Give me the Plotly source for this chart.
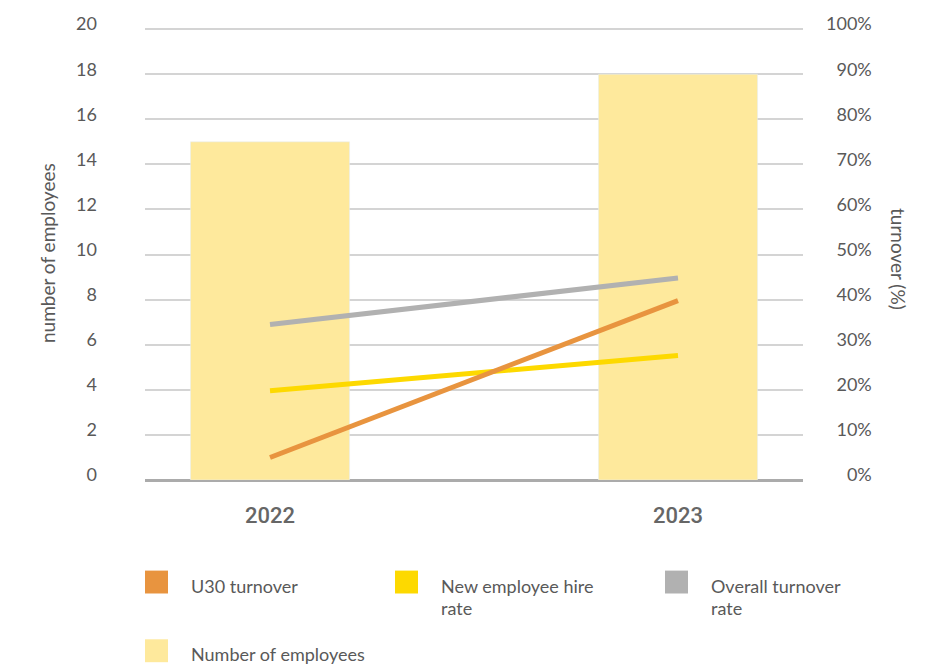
import plotly.graph_objects as go

years = ["2022", "2023"]
employees = [15, 18]
u30_turnover = [5.0, 39.8]
hire_rate = [19.8, 27.6]
overall_turnover = [34.5, 44.8]

left_ticks = list(range(0, 21, 2))
right_ticks = list(range(0, 101, 10))

C_BAR = "#FEE99C"
C_U30 = "#E8943F"
C_HIRE = "#FDD900"
C_ALL = "#B1B1B1"
TXT = "#595959"
FONT = "Lato"

W, H = 934, 666
L, R, T, B = 145, 803, 26, 480

fig = go.Figure()
fig.add_trace(go.Bar(x=years, y=employees, marker_color=C_BAR, width=0.39,
                     name="Number of employees", yaxis="y"))
for name, vals, col in [("Overall turnover rate", overall_turnover, C_ALL),
                        ("New employee hire rate", hire_rate, C_HIRE),
                        ("U30 turnover", u30_turnover, C_U30)]:
    fig.add_trace(go.Scatter(x=years, y=vals, mode="lines", name=name,
                             line=dict(color=col, width=5), yaxis="y2"))

def pxx(p):
    return (p - L) / (R - L)

def pxy(p):
    return (B - p) / (B - T)

shapes = []
annotations = []
legend_items = [
    ("U30 turnover", C_U30, 145, 571, ["U30 turnover"]),
    ("New employee hire rate", C_HIRE, 395, 571, ["New employee hire", "rate"]),
    ("Overall turnover rate", C_ALL, 665, 571, ["Overall turnover", "rate"]),
    ("Number of employees", C_BAR, 145, 640, ["Number of employees"]),
]
for name, col, x0, y0, lines in legend_items:
    shapes.append(dict(type="rect", xref="paper", yref="paper",
                       x0=pxx(x0), x1=pxx(x0 + 23), y0=pxy(y0), y1=pxy(y0 + 23),
                       fillcolor=col, line=dict(width=0)))
    for i, ln in enumerate(lines):
        annotations.append(dict(text=ln, xref="paper", yref="paper",
                                x=pxx(x0 + 44), y=pxy(y0 + 15 + 23 * i),
                                xanchor="left", yanchor="middle", showarrow=False,
                                font=dict(family=FONT, size=18, color=TXT)))

annotations.append(dict(text="number of employees", xref="paper", yref="paper",
                        x=pxx(47), y=pxy(252), textangle=-90, showarrow=False,
                        xanchor="center", yanchor="middle",
                        font=dict(family=FONT, size=19, color=TXT)))
annotations.append(dict(text="turnover (%)", xref="paper", yref="paper",
                        x=pxx(898), y=pxy(258), textangle=90, showarrow=False,
                        xanchor="center", yanchor="middle",
                        font=dict(family=FONT, size=19, color=TXT)))

FS = "\u2007"
right_text = [FS * (3 - len(str(v))) + f"{v}%" for v in right_ticks]

fig.update_layout(
    width=W, height=H,
    margin=dict(l=L, r=W - R, t=T, b=H - B),
    paper_bgcolor="white", plot_bgcolor="white",
    showlegend=False,
    shapes=shapes, annotations=annotations,
    xaxis=dict(type="category", range=[-0.3064, 1.3064], showgrid=False,
               showline=False, ticks="", ticklabelstandoff=20,
               tickfont=dict(family="Roboto", size=22, color="#666666", weight=500)),
    yaxis=dict(range=[0, 20.05], tickvals=left_ticks, showgrid=True,
               gridcolor="#D4D4D4", gridwidth=1.5, zeroline=True,
               zerolinecolor="#ABABAB", zerolinewidth=2.5, ticks="",
               ticklabelstandoff=47, ticklabelshift=-5, showline=False,
               tickfont=dict(family=FONT, size=18, color=TXT)),
    yaxis2=dict(range=[0, 100.25], tickvals=right_ticks, ticktext=right_text,
                overlaying="y", side="right", showgrid=False, zeroline=False,
                ticks="", ticklabelstandoff=22, ticklabelshift=-5, showline=False,
                tickfont=dict(family=FONT, size=18, color=TXT)),
)

fig.write_html("out.html")
